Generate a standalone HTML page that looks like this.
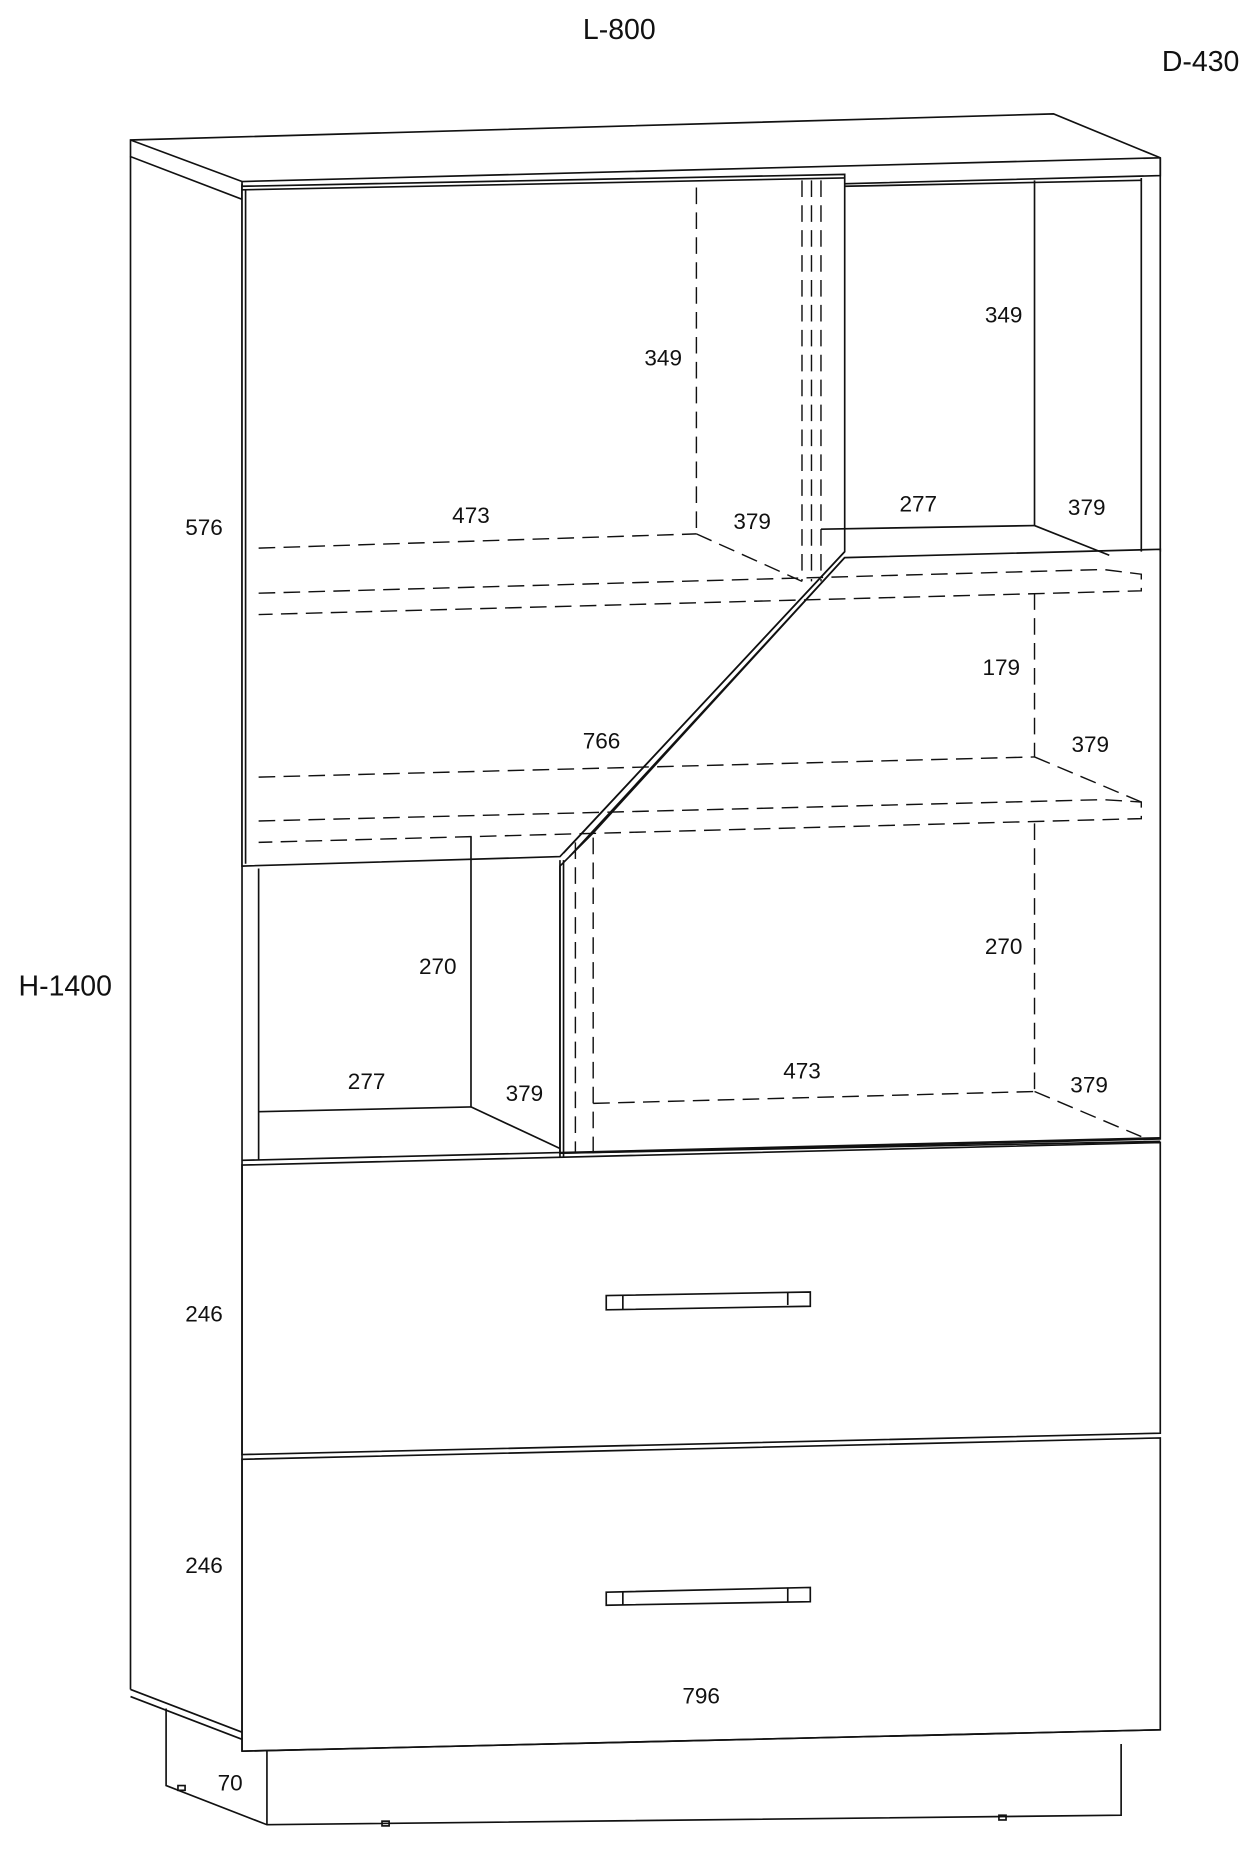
<!DOCTYPE html>
<html><head><meta charset="utf-8"><style>
html,body{margin:0;padding:0;background:#fff;}
svg{display:block;}
text{font-family:"Liberation Sans",Arial,sans-serif;font-size:19px;fill:#111;text-anchor:middle;}
</style></head><body>
<svg width="1254" height="1852" viewBox="0 0 1057 1561" preserveAspectRatio="none" xmlns="http://www.w3.org/2000/svg">
<g fill="none" stroke="#111" stroke-width="1.4">
<!-- top slab -->
<polygon points="110,118 888,96 978,133 978,148 204,168 110,132" fill="#fff"/>
<line x1="110" y1="118" x2="204" y2="153"/>
<line x1="204" y1="153" x2="978" y2="133"/>
<line x1="204" y1="153" x2="204" y2="168"/>
<!-- left side panel -->
<line x1="110" y1="132" x2="110" y2="1424"/>
<line x1="110" y1="1424" x2="204" y2="1460"/>
<line x1="110" y1="1430" x2="204" y2="1466"/>
<line x1="204" y1="155" x2="204" y2="1476"/>
<!-- plinth -->
<polyline points="140,1440 140,1505 225,1538 945,1530 945,1470"/>
<line x1="225" y1="1476" x2="225" y2="1538"/>
<line x1="204" y1="1476" x2="978" y2="1458"/>
<rect x="150" y="1505" width="6" height="4"/><rect x="322" y="1535" width="6" height="4"/><rect x="842" y="1530" width="6" height="4"/>
<!-- top-left door -->
<polygon points="204,157 712,147 712,465 472,722 204,730" fill="#fff"/>
<line x1="207" y1="160" x2="207" y2="728"/>
<line x1="204" y1="160" x2="712" y2="150"/>
<line x1="712" y1="465" x2="475" y2="719" />
<line x1="712" y1="470" x2="480" y2="722"/>
<!-- top right open -->
<line x1="712" y1="157" x2="962" y2="152"/>
<line x1="872" y1="152" x2="872" y2="443"/>
<line x1="962" y1="150" x2="962" y2="465"/>
<line x1="978" y1="133" x2="978" y2="465"/>
<line x1="692" y1="446" x2="872" y2="443"/>
<line x1="872" y1="443" x2="935" y2="468"/>
<!-- right door -->
<polygon points="712,470 978,463 978,960 472,972 472,730 500,702" fill="none"/>
<line x1="472" y1="725" x2="472" y2="975"/>
<line x1="475" y1="725" x2="475" y2="975"/>
<line x1="472" y1="972" x2="978" y2="962"/>
<!-- lower-left open -->
<line x1="218" y1="732" x2="218" y2="978"/>
<line x1="397" y1="705" x2="397" y2="933"/>
<line x1="218" y1="937" x2="397" y2="933"/>
<line x1="397" y1="933" x2="472" y2="968"/>
<!-- drawers -->
<polygon points="204,982 978,963 978,1208 204,1226"/>
<polygon points="204,1230 978,1212 978,1458 204,1476"/>
<line x1="204" y1="978" x2="978" y2="959"/>
<polygon points="511,1092 683,1089 683,1101 511,1104"/>
<line x1="664" y1="1089" x2="664" y2="1100"/><line x1="525" y1="1092" x2="525" y2="1104"/>
<polygon points="511,1342 683,1338 683,1350 511,1353"/>
<line x1="664" y1="1338" x2="664" y2="1350"/><line x1="525" y1="1342" x2="525" y2="1353"/>
</g>
<!-- dashed hidden lines -->
<g fill="none" stroke="#111" stroke-width="1.2" stroke-dasharray="14,7">
<line x1="587" y1="158" x2="587" y2="450"/>
<line x1="676" y1="152" x2="676" y2="490"/>
<line x1="684" y1="152" x2="684" y2="490"/>
<line x1="692" y1="152" x2="692" y2="490"/>
<line x1="218" y1="462" x2="587" y2="450"/>
<line x1="587" y1="450" x2="676" y2="490"/>
<polyline points="218,500 930,480 962,484 962,498 218,518"/>
<line x1="872" y1="500" x2="872" y2="638"/>
<line x1="218" y1="655" x2="872" y2="638"/>
<line x1="872" y1="638" x2="962" y2="676"/>
<polyline points="218,692 930,674 962,676 962,690 218,710"/>
<line x1="872" y1="694" x2="872" y2="920"/>
<line x1="485" y1="710" x2="485" y2="972"/>
<line x1="500" y1="706" x2="500" y2="972"/>
<line x1="500" y1="930" x2="872" y2="920"/>
<line x1="872" y1="920" x2="962" y2="958"/>
</g>
<text x="522" y="33" style="font-size:24px">L-800</text>
<text x="1012" y="60" style="font-size:24px">D-430</text>
<text x="55" y="839" style="font-size:24px">H-1400</text>
<text x="172" y="451">576</text>
<text x="172" y="1114">246</text>
<text x="172" y="1326">246</text>
<text x="194" y="1509">70</text>
<text x="591" y="1436">796</text>
<text x="559" y="308">349</text>
<text x="846" y="272">349</text>
<text x="397" y="441">473</text>
<text x="634" y="446">379</text>
<text x="774" y="431">277</text>
<text x="916" y="434">379</text>
<text x="844" y="569">179</text>
<text x="507" y="631">766</text>
<text x="919" y="634">379</text>
<text x="369" y="821">270</text>
<text x="846" y="804">270</text>
<text x="309" y="918">277</text>
<text x="442" y="928">379</text>
<text x="676" y="909">473</text>
<text x="918" y="921">379</text>
</svg>
</body></html>
